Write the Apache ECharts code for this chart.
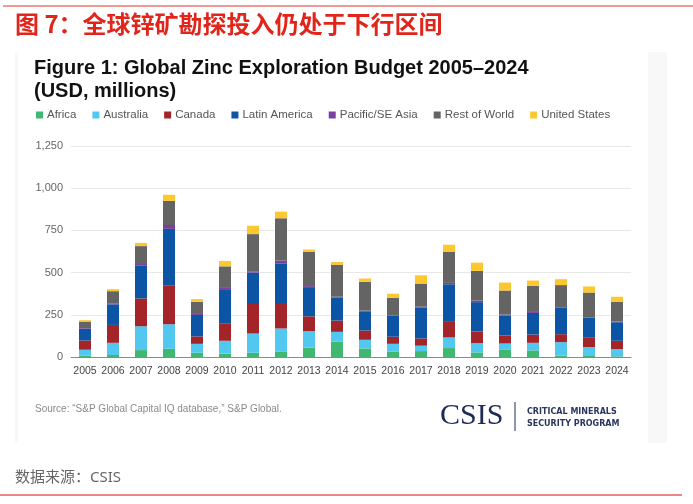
<!DOCTYPE html>
<html>
<head>
    <meta charset="utf-8">
    <script src="https://cdn.jsdelivr.net/npm/echarts@6/dist/echarts.min.js"></script>
    <style>
        html, body {margin: 0; padding: 0; background: #fff;}
        #main {width: 693px; height: 504px;}
    </style>
</head>
<body>
<div id="main"></div>
<script type="text/javascript">
    // 年份
    var years = ['2005','2006','2007','2008','2009','2010','2011','2012','2013','2014',
        '2015','2016','2017','2018','2019','2020','2021','2022','2023','2024'];

    // 各地区勘探预算（百万美元）
    var africa    = [8, 12, 41, 49, 25, 20, 25, 33, 55, 92, 51, 31, 35, 53, 27, 45, 39, 8, 6, 4];
    var australia = [35, 72, 141, 145, 53, 76, 114, 136, 98, 57, 51, 47, 32, 63, 55, 35, 45, 80, 53, 43];
    var canada    = [55, 106, 165, 231, 44, 104, 175, 151, 88, 67, 55, 42, 43, 92, 69, 47, 49, 47, 55, 49];
    var latam     = [69, 122, 196, 334, 127, 202, 186, 235, 173, 137, 114, 123, 182, 223, 174, 118, 128, 157, 117, 110];
    var pacific   = [4, 6, 8, 23, 6, 12, 8, 16, 6, 4, 4, 4, 6, 8, 10, 6, 6, 4, 4, 4];
    var restWorld = [39, 72, 106, 143, 72, 123, 220, 251, 202, 190, 170, 104, 137, 183, 175, 143, 155, 130, 147, 116];
    var usa       = [8, 12, 19, 36, 16, 32, 50, 39, 15, 16, 20, 24, 49, 43, 49, 47, 31, 35, 36, 31];

    var yTicks = [0, 250, 500, 750, 1000, 1250];

    var seriesNames = ['Africa', 'Australia', 'Canada', 'Latin America', 'Pacific/SE Asia', 'Rest of World', 'United States'];
    var seriesData = [africa, australia, canada, latam, pacific, restWorld, usa];
    var colors = ['#41b871', '#52c7f0', '#a3252a', '#0b55a4', '#7c3f9e', '#646464', '#fdc72e'];

    var chart = echarts.init(document.getElementById('main'), null, {renderer: 'canvas'});

    var series = seriesNames.map(function (name, i) {
        return {
            name: name,
            type: 'bar',
            stack: 'total',
            barWidth: 12,
            data: seriesData[i],
            itemStyle: {color: colors[i]}
        };
    });

    option = {
        backgroundColor: '#fff',
        animation: false,
        color: colors,
        legend: {
            data: seriesNames,
            left: 31,
            top: 104,
            icon: 'rect',
            itemWidth: 7,
            itemHeight: 7,
            itemGap: 16,
            textStyle: {fontFamily: 'Liberation Sans', fontSize: 11.5, color: '#555', padding: [0, 0, 0, -1]}
        },
        grid: {left: 71, right: 62, top: 146, height: 211},
        xAxis: {
            type: 'category',
            data: years,
            axisTick: {show: false},
            axisLine: {lineStyle: {color: '#8a8a8a', width: 1}},
            axisLabel: {interval: 0, fontFamily: 'Liberation Sans', fontSize: 10.5, color: '#444', margin: 9}
        },
        yAxis: {
            type: 'value',
            min: yTicks[0],
            max: yTicks[yTicks.length - 1],
            interval: 250,
            axisLine: {show: false},
            axisTick: {show: false},
            splitLine: {lineStyle: {color: '#e8e8e8'}},
            axisLabel: {
                fontFamily: 'Liberation Sans', fontSize: 11, color: '#666', margin: 8,
                formatter: function (v) { return v.toLocaleString('en-US'); }
            }
        },
        graphic: [
            // 顶部和底部红线
            {type: 'line', shape: {x1: 3, y1: 6, x2: 693, y2: 6}, style: {stroke: '#e2362f', lineWidth: 1.2}},
            {type: 'line', shape: {x1: 0, y1: 495, x2: 682, y2: 495}, style: {stroke: '#e0625a', lineWidth: 1.5}},
            // 图片底色
            {type: 'rect', z: -10, shape: {x: 15, y: 52, width: 652, height: 391}, style: {fill: '#f8f8f8'}},
            {type: 'rect', z: -9, shape: {x: 18, y: 52, width: 630, height: 391}, style: {fill: '#ffffff'}},
            {type: 'text', left: 15, top: 12, style: {
                text: '图 7：全球锌矿勘探投入仍处于下行区间',
                font: 'bold 24px "Noto Sans CJK SC"', fill: '#e1251b'}},
            {type: 'text', left: 34, top: 57, style: {
                text: 'Figure 1: Global Zinc Exploration Budget 2005–2024\n(USD, millions)',
                font: 'bold 20px "Liberation Sans"', fill: '#111', lineHeight: 23}},
            {type: 'text', left: 35, top: 404, style: {
                text: 'Source: “S&P Global Capital IQ database,” S&P Global.',
                font: '10px "Liberation Sans"', fill: '#8a8a8a'}},
            // CSIS 标志
            {type: 'text', left: 440, top: 401, style: {
                text: 'CSIS', font: '30px "Liberation Serif"', fill: '#1f2b57'}},
            {type: 'line', shape: {x1: 515, y1: 402, x2: 515, y2: 431}, style: {stroke: '#1f2b57', lineWidth: 1}},
            {type: 'text', left: 527, top: 406, style: {
                text: 'CRITICAL MINERALS\nSECURITY PROGRAM', font: 'bold 8px "DejaVu Sans"',
                fill: '#2a3560', lineHeight: 12}},
            {type: 'text', left: 15, top: 470, style: {
                text: '数据来源：CSIS', font: '15px "Noto Sans", "Noto Sans CJK SC"', fill: '#666'}}
        ],
        series: series
    };

    chart.setOption(option);
</script>
</body>
</html>
